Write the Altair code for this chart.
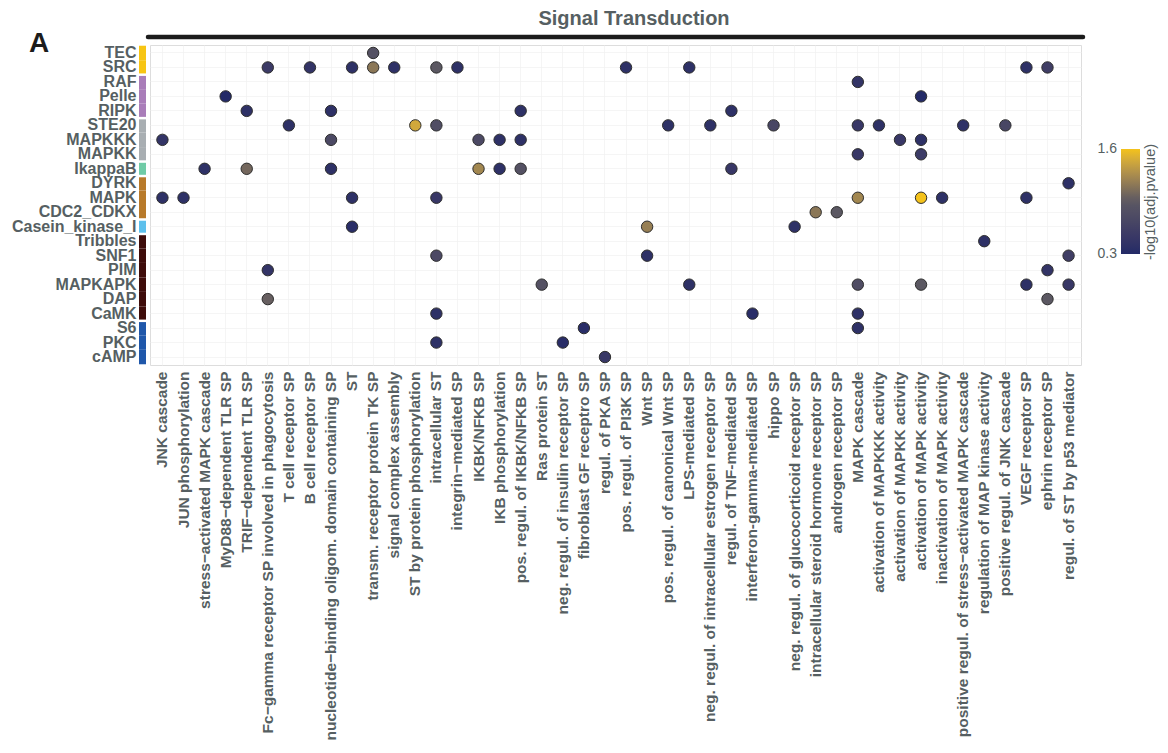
import altair as alt
import pandas as pd

processes = [
    "JNK cascade", "JUN phosphorylation", "stress\u2212activated MAPK cascade",
    "MyD88\u2212dependent TLR SP", "TRIF\u2212dependent TLR SP",
    "Fc\u2212gamma receptor SP involved in phagocytosis", "T cell receptor SP",
    "B cell receptor SP", "nucleotide\u2212binding oligom. domain containing SP", "ST",
    "transm. receptor protein TK SP", "signal complex assembly",
    "ST by protein phosphorylation", "intracellular ST", "integrin\u2212mediated SP",
    "IKBK/NFKB SP", "IKB phosphorylation", "pos. regul. of IKBK/NFKB SP",
    "Ras protein ST", "neg. regul. of insulin receptor SP", "fibroblast GF receptro SP",
    "regul. of PKA SP", "pos. regul. of PI3K SP", "Wnt SP",
    "pos. regul. of canonical Wnt SP", "LPS-mediated SP",
    "neg. regul. of intracellular estrogen receptor SP", "regul. of TNF-mediated SP",
    "interferon-gamma-mediated SP", "hippo SP",
    "neg. regul. of glucocorticoid receptor SP",
    "intracellular steroid hormone receptor SP", "androgen receptor SP",
    "MAPK cascade", "activation of MAPKKK activity", "activation of MAPKK activity",
    "activation of MAPK activity", "inactivation of MAPK activity",
    "positive regul. of stress\u2212activated MAPK cascade",
    "regulation of MAP kinase activity", "positive regul. of JNK cascade",
    "VEGF receptor SP", "ephrin receptor SP", "regul. of ST by p53 mediator",
]

kinases = ["TEC", "SRC", "RAF", "Pelle", "RIPK", "STE20", "MAPKKK", "MAPKK",
           "IkappaB", "DYRK", "MAPK", "CDC2_CDKX", "Casein_kinase_I", "Tribbles",
           "SNF1", "PIM", "MAPKAPK", "DAP", "CaMK", "S6", "PKC", "cAMP"]
kinase_groups = ["TK", "TK", "TKL", "TKL", "TKL", "STE", "STE", "STE", "IKB",
                 "CMGC", "CMGC", "CMGC", "CK1", "CAMK", "CAMK", "CAMK", "CAMK",
                 "CAMK", "CAMK", "AGC", "AGC", "AGC"]
group_names = ["TK", "TKL", "STE", "IKB", "CMGC", "CK1", "CAMK", "AGC"]
group_colors = ["#F7C514", "#A97DB9", "#A8AEB2", "#70CBA6", "#B87A2A",
                "#5DC0EC", "#3E0C0A", "#1F57AA"]

# points: kinase, process index (1-based), -log10(adj.pvalue)
pt_kinase = (
    ["TEC"]
    + ["SRC"] * 11
    + ["RAF"]
    + ["Pelle"] * 2
    + ["RIPK"] * 4
    + ["STE20"] * 10
    + ["MAPKKK"] * 7
    + ["MAPKK"] * 2
    + ["IkappaB"] * 7
    + ["DYRK"]
    + ["MAPK"] * 8
    + ["CDC2_CDKX"] * 2
    + ["Casein_kinase_I"] * 3
    + ["Tribbles"]
    + ["SNF1"] * 3
    + ["PIM"] * 2
    + ["MAPKAPK"] * 6
    + ["DAP"] * 2
    + ["CaMK"] * 3
    + ["S6"] * 2
    + ["PKC"] * 2
    + ["cAMP"]
)
pt_process = (
    [11]
    + [6, 8, 10, 11, 12, 14, 15, 23, 26, 42, 43]
    + [34]
    + [4, 37]
    + [5, 9, 18, 28]
    + [7, 13, 14, 25, 27, 30, 34, 35, 39, 41]
    + [1, 9, 16, 17, 18, 36, 37]
    + [34, 37]
    + [3, 5, 9, 16, 17, 18, 28]
    + [44]
    + [1, 2, 10, 14, 34, 37, 38, 42]
    + [32, 33]
    + [10, 24, 31]
    + [40]
    + [14, 24, 44]
    + [6, 43]
    + [19, 26, 34, 37, 42, 44]
    + [6, 43]
    + [14, 29, 34]
    + [21, 34]
    + [14, 20]
    + [22]
)
pt_value = (
    [0.85]
    + [0.55, 0.45, 0.4, 1.15, 0.4, 0.95, 0.4, 0.4, 0.4, 0.4, 0.6]
    + [0.45]
    + [0.3, 0.3]
    + [0.4, 0.4, 0.4, 0.4]
    + [0.4, 1.45, 0.8, 0.4, 0.4, 0.7, 0.5, 0.4, 0.4, 0.7]
    + [0.45, 0.75, 0.75, 0.4, 0.4, 0.5, 0.4]
    + [0.5, 0.55]
    + [0.4, 1.05, 0.4, 1.25, 0.4, 0.85, 0.5]
    + [0.4]
    + [0.4, 0.4, 0.4, 0.5, 1.25, 1.6, 0.4, 0.4]
    + [1.15, 0.95]
    + [0.35, 1.2, 0.4]
    + [0.4]
    + [0.75, 0.4, 0.6]
    + [0.45, 0.45]
    + [0.85, 0.4, 0.8, 0.95, 0.4, 0.5]
    + [1.0, 0.95]
    + [0.4, 0.35, 0.4]
    + [0.35, 0.4]
    + [0.4, 0.35]
    + [0.5]
)
legend_title = "-log10(adj.pvalue)"
legend_tick_labels = ["1.6", "0.3"]
chart_title = "Signal Transduction"
panel_label = "A"

TXT = "#565F62"
FONT = "Liberation Sans"
W, H = 931, 320

pts = pd.DataFrame({
    "kinase": pt_kinase,
    "process": [processes[i - 1] for i in pt_process],
    "value": pt_value,
})
kdf = pd.DataFrame({"kinase": kinases, "group": kinase_groups})
first_of_group = [kinases[i] for i in range(1, len(kinases))
                  if kinase_groups[i] != kinase_groups[i - 1]]
sep = pd.DataFrame({"kinase": first_of_group})

yscale = alt.Scale(domain=kinases, type="band", paddingInner=0, paddingOuter=0.05)
xscale = alt.Scale(domain=processes, type="band", paddingInner=0, paddingOuter=0.09)

y_axis = alt.Axis(title=None, ticks=False, domain=False, labelFontSize=16,
                  labelFontWeight="bold", labelColor=TXT, labelPadding=14,
                  labelFont=FONT, grid=True, gridColor="#F1F1F1", gridWidth=0.7,
                  labelLimit=400, zindex=0)
x_axis = alt.Axis(title=None, ticks=False, domain=False, labelFontSize=15.5,
                  labelFontWeight="bold", labelColor=TXT, labelPadding=6,
                  labelAngle=-90, labelAlign="right", labelBaseline="middle",
                  labelFont=FONT, grid=True, gridColor="#F1F1F1", gridWidth=0.7,
                  labelLimit=1000, zindex=0)

points = alt.Chart(pts).mark_circle(
    size=130, opacity=1, fillOpacity=1, stroke="#2E2E2E", strokeWidth=1
).encode(
    x=alt.X("process:N", scale=xscale, axis=x_axis, sort=processes),
    y=alt.Y("kinase:N", scale=yscale, axis=y_axis, sort=kinases),
    color=alt.Color(
        "value:Q",
        scale=alt.Scale(domain=[0.3, 0.95, 1.6],
                        range=["#232A67", "#5B5862", "#F4C21B"],
                        interpolate="lab"),
        legend=alt.Legend(
            title=None, values=[0.3, 1.6], orient="none", labelOpacity=0,
            legendX=971, legendY=104, gradientLength=105, gradientThickness=19,
            padding=0, gradientStrokeWidth=0,
        ),
    ),
)

bars = alt.Chart(kdf).mark_rect().encode(
    y=alt.Y("kinase:N", scale=yscale, axis=y_axis, sort=kinases),
    x=alt.value(-11),
    x2=alt.value(-4),
    fill=alt.Fill("group:N", scale=alt.Scale(domain=group_names, range=group_colors),
                  legend=None),
)

seps = alt.Chart(sep).mark_rule(color="white", strokeWidth=2.5).encode(
    y=alt.Y("kinase:N", scale=yscale, axis=y_axis, sort=kinases, bandPosition=0),
    x=alt.value(-13),
    x2=alt.value(-2),
)

topline = alt.Chart(pd.DataFrame({"a": [0]})).mark_rule(
    color="#1C1C1C", strokeWidth=4.5, strokeCap="round"
).encode(x=alt.value(-2), x2=alt.value(W + 2), y=alt.value(-8))

panel = alt.Chart(pd.DataFrame({"t": [panel_label]})).mark_text(
    fontSize=28, fontWeight="bold", font=FONT, color="#1C1C1C", align="center",
    baseline="alphabetic"
).encode(text="t:N", x=alt.value(-111), y=alt.value(7))

title = alt.Chart(pd.DataFrame({"t": [chart_title]})).mark_text(
    fontSize=20, fontWeight="bold", font=FONT, color=TXT, align="center",
    baseline="alphabetic"
).encode(text="t:N", x=alt.value(484), y=alt.value(-20.5))

ltitle = alt.Chart(pd.DataFrame({"t": [legend_title]})).mark_text(
    fontSize=14.5, font=FONT, color=TXT, align="center", baseline="middle", angle=270
).encode(text="t:N", x=alt.value(1001), y=alt.value(157))

lab_hi = alt.Chart(pd.DataFrame({"t": [legend_tick_labels[0]]})).mark_text(
    fontSize=14, font=FONT, color=TXT, align="right", baseline="middle"
).encode(text="t:N", x=alt.value(967), y=alt.value(104))

lab_lo = alt.Chart(pd.DataFrame({"t": [legend_tick_labels[1]]})).mark_text(
    fontSize=14, font=FONT, color=TXT, align="right", baseline="middle"
).encode(text="t:N", x=alt.value(967), y=alt.value(209))

chart = alt.layer(
    bars, seps, points, topline, panel, title, ltitle, lab_hi, lab_lo
).resolve_scale(
    color="independent", fill="independent"
).properties(
    width=W, height=H,
    autosize=alt.AutoSizeParams(type="none"),
    padding={"left": 142, "top": 37, "right": 78, "bottom": 378},
).configure_view(stroke="#A23A3A", strokeWidth=1.2).configure(font=FONT)

chart.save("out.html", embed_options={"renderer": "svg", "actions": False})
